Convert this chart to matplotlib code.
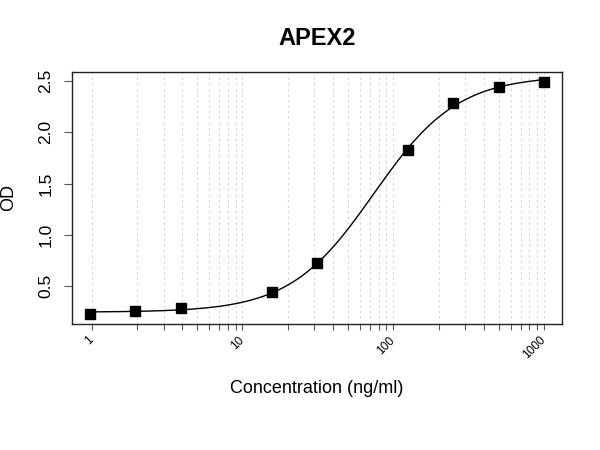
import numpy as np
import matplotlib
matplotlib.use('Agg')
from matplotlib import pyplot as plt
from matplotlib.ticker import NullFormatter, FixedLocator

plt.rcParams['font.family'] = ['Liberation Sans', 'DejaVu Sans']

# dane
conc = [0.977, 1.95, 3.91, 15.6, 31.25, 125, 250, 500, 1000]
od = [0.227, 0.256, 0.287, 0.445, 0.722, 1.827, 2.281, 2.439, 2.493]
x_major = [1, 10, 100, 1000]
x_labels = ['1', '10', '100', '1000']
y_ticks = [0.5, 1.0, 1.5, 2.0, 2.5]

x = np.array(conc)
y = np.array(od)


# dopasowanie 4PL: siatka po C i B, A i D liniowo
def fit_4pl(x, y):
    best = None
    for logc in np.linspace(1.0, 2.6, 321):
        c = 10 ** logc
        for b in np.linspace(0.5, 3.0, 251):
            g = 1.0 / (1.0 + (x / c) ** b)
            m = np.column_stack([g, 1 - g])
            coef, res, _, _ = np.linalg.lstsq(m, y, rcond=None)
            err = np.sum((m @ coef - y) ** 2)
            if best is None or err < best[0]:
                best = (err, coef[0], coef[1], c, b)
    return best[1:]


a, d, c, b = fit_4pl(x, y)
xs = np.logspace(np.log10(x.min()), np.log10(x.max()), 400)
ys = d + (a - d) / (1 + (xs / c) ** b)

fig = plt.figure(figsize=(6, 4.5), dpi=100)
ax = fig.add_axes([0.12, 0.28, 0.817, 0.561])

ax.plot(xs, ys, color='black', linewidth=1.0)
ax.plot(x, y, 's', color='black', markersize=7.5)

ax.set_xscale('log')
ax.set_xlim(0.74, 1320)
ax.set_ylim(0.133, 2.59)

# siatka pionowa przy każdej wartości 1..9 w każdej dekadzie
grid_pos = [m * 10 ** e for e in range(3) for m in range(1, 10)] + [1000]
ax.xaxis.set_major_locator(FixedLocator(x_major))
ax.xaxis.set_minor_locator(FixedLocator([g for g in grid_pos if g not in x_major]))
ax.xaxis.set_minor_formatter(NullFormatter())
ax.set_xticklabels(x_labels, rotation=45, ha='right', va='center',
                   rotation_mode='anchor', fontsize=8.5)
ax.grid(True, which='both', axis='x', linestyle=(0, (2, 3)), color='#d4d4d4', linewidth=0.8)

ax.set_yticks(y_ticks)
ax.set_yticklabels([f'{v:.1f}' for v in y_ticks], rotation=90, va='center', fontsize=12.5)

ax.tick_params(axis='x', which='both', direction='out', length=4.5, width=0.8,
               color='#555555', pad=6)
ax.tick_params(axis='y', direction='out', length=5.5, width=0.8, color='#555555', pad=8)

for s in ax.spines.values():
    s.set_linewidth(1.0)
    s.set_color('#222222')

ax.set_title('APEX2', fontsize=17, fontweight='bold', pad=19)
ax.set_xlabel('Concentration (ng/ml)', fontsize=13, va='center')
ax.xaxis.set_label_coords(0.5, -0.254)
ax.set_ylabel('OD', fontsize=13, va='center')
ax.yaxis.set_label_coords(-0.1295, 0.5)

fig.savefig('out.png', dpi=100)
